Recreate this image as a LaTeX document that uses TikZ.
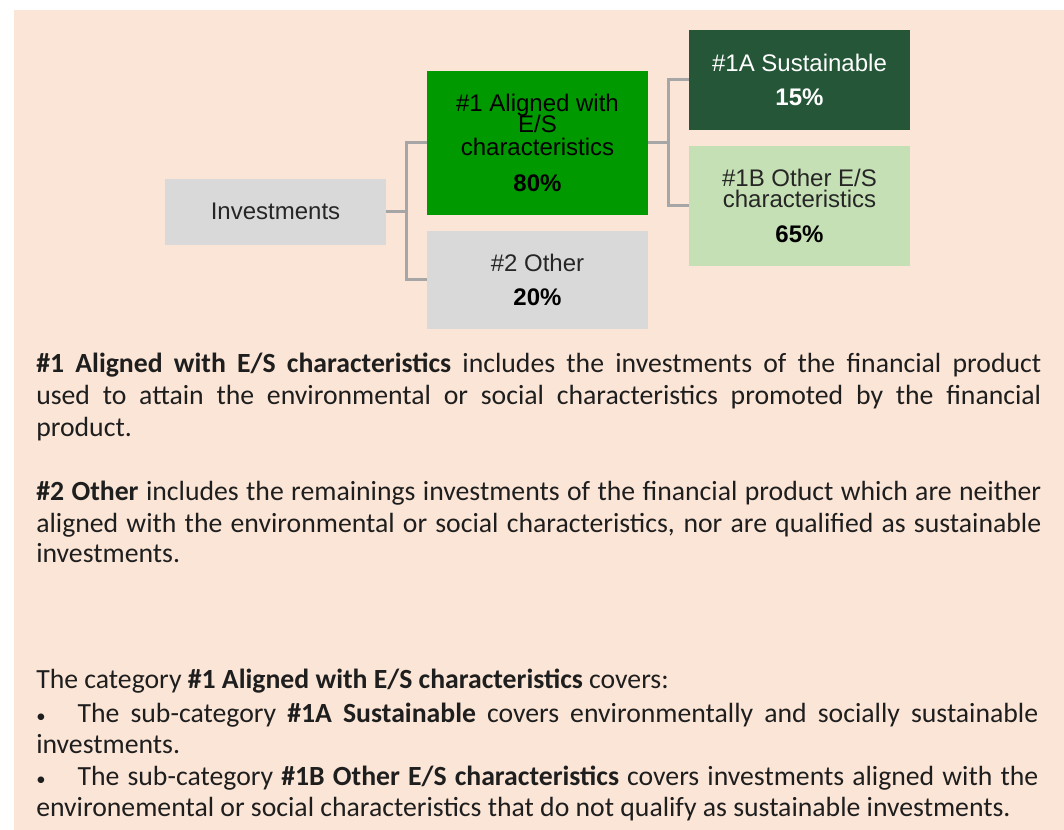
\documentclass[tikz,border=0pt]{standalone}
\usepackage{fontspec}
\setmainfont{Carlito}
\newfontfamily\arialf{Liberation Sans}
\definecolor{peach}{HTML}{FBE5D6}
\definecolor{boxgray}{HTML}{D9D9D9}
\definecolor{midgreen}{HTML}{009900}
\definecolor{darkgreen}{HTML}{245637}
\definecolor{lightgreen}{HTML}{C5E0B4}
\definecolor{conngray}{HTML}{A6A6A6}
\definecolor{txtgray}{HTML}{262626}
\definecolor{bodytxt}{HTML}{1E1E1E}
\newcommand{\smallbul}{{\fontsize{14}{14}\selectfont\textbullet}}
\begin{document}
\begin{tikzpicture}[x=0.75pt,y=-0.75pt,
  box/.style={draw=none,inner sep=0,outer sep=0,anchor=north west,minimum width=165.75pt},
  lbl/.style={font=\arialf\fontsize{18}{20}\selectfont,anchor=base,inner sep=0},
  pct/.style={font=\arialf\bfseries\fontsize{18}{20}\selectfont,anchor=base,inner sep=0},
  conn/.style={draw=conngray,line width=2.25pt},
  body/.style={font=\fontsize{20.8}{24}\selectfont,anchor=base west,inner sep=0,text=bodytxt}]
\useasboundingbox (0,0) rectangle (1064,830);
\fill[white] (0,0) rectangle (1064,830);
\fill[peach] (14,10) rectangle (1064,830);

% boxes
\node[box,fill=boxgray,minimum height=49.5pt] (inv) at (165,179) {};
\node[box,fill=midgreen,minimum height=108pt] (a1) at (427,71) {};
\node[box,fill=boxgray,minimum height=73.5pt] (o2) at (427,231) {};
\node[box,fill=darkgreen,minimum height=75pt] (s1a) at (689,30) {};
\node[box,fill=lightgreen,minimum height=90pt] (o1b) at (689,146) {};

% connectors
\coordinate (j1) at (406,212);
\coordinate (j2) at (668,143);
\draw[conn] (inv.east) -- (j1) |- (a1.west);
\draw[conn] (j1) |- (o2.west);
\draw[conn] (a1.east) -- (j2) |- (s1a.west);
\draw[conn] (j2) |- (o1b.west);

% box texts
\node[lbl,text=txtgray] (invt) at (275.5,220) {Investments};
\node[lbl,text=black] (a1t1) at (537.5,112) {\#1 Aligned with};
\node[lbl,text=black] (a1t2) at (537.5,133) {E/S};
\node[lbl,text=black] (a1t3) at (537.5,156) {characteristics};
\node[pct,text=black] (a1p) at (537.5,192) {80\%};
\node[lbl,text=txtgray] (o2t) at (537.5,272) {\#2 Other};
\node[pct,text=black] (o2p) at (537.5,306) {20\%};
\node[lbl,text=white] (s1at) at (799.5,72) {\#1A Sustainable};
\node[pct,text=white] (s1ap) at (799.5,106) {15\%};
\node[lbl,text=txtgray] (o1bt1) at (799.5,187) {\#1B Other E/S};
\node[lbl,text=txtgray] (o1bt2) at (799.5,208) {characteristics};
\node[pct,text=black] (o1bp) at (799.5,243) {65\%};

% body text
\node[body] (p1a) at (36,373) {\makebox[753.75pt][s]{\textbf{\#1 Aligned with E/S characteristics} includes the investments of the financial product}};
\node[body] (p1b) at (36,405) {\makebox[753.75pt][s]{used to attain the environmental or social characteristics promoted by the financial}};
\node[body] (p1c) at (36,437) {product.};
\node[body] (p2a) at (36,500) {\makebox[753.75pt][s]{\textbf{\#2 Other} includes the remainings investments of the financial product which are neither}};
\node[body] (p2b) at (36,532) {\makebox[753.75pt][s]{aligned with the environmental or social characteristics, nor are qualified as sustainable}};
\node[body] (p2c) at (36,562) {investments.};
\node[body] (p3a) at (36,688) {The category \textbf{\#1 Aligned with E/S characteristics} covers:};
\node[body] (p3b) at (36,722) {\makebox[751.5pt][s]{\makebox[31pt][l]{\smallbul}The sub-category \textbf{\#1A Sustainable} covers environmentally and socially sustainable}};
\node[body] (p3c) at (36,753) {investments.};
\node[body] (p3d) at (36,785) {\makebox[751.5pt][s]{\makebox[31pt][l]{\smallbul}The sub-category \textbf{\#1B Other E/S characteristics} covers investments aligned with the}};
\node[body] (p3e) at (36,816) {environemental or social characteristics that do not qualify as sustainable investments.};
\end{tikzpicture}
\end{document}
